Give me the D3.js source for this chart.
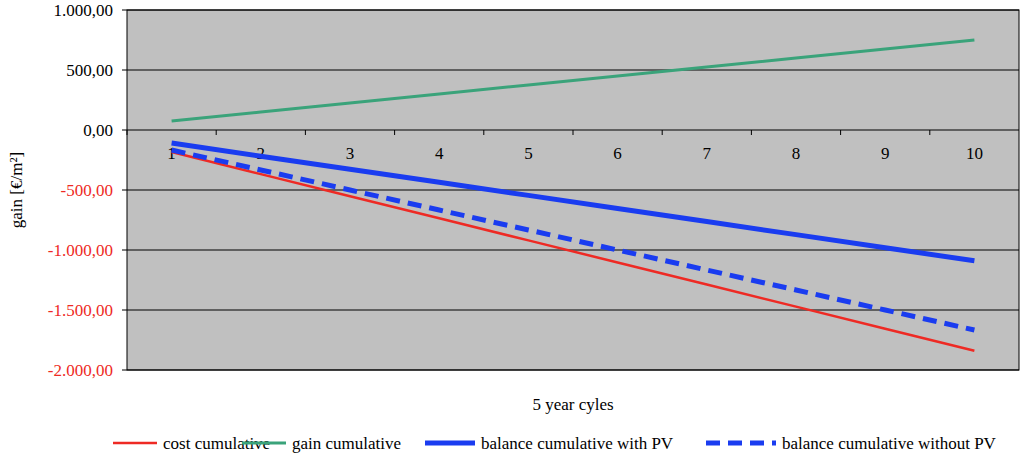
<!DOCTYPE html><html><head><meta charset="utf-8"><script src="https://cdn.jsdelivr.net/npm/d3@7"></script>
<style>body{margin:0;background:#fff}text{font-family:"Liberation Serif","Times New Roman",serif}</style></head><body>
<svg id="c" width="1024" height="457"></svg>
<script>
const categories=[1,2,3,4,5,6,7,8,9,10];
const costCum=[-184,-368,-552,-736,-920,-1104,-1288,-1472,-1656,-1840];
const gainCum=[75,150,225,300,375,450,525,600,675,750];
const balWithPV=[-109,-218,-327,-436,-545,-654,-763,-872,-981,-1090];
const balWithoutPV=[-167,-333,-500,-667,-833,-1000,-1167,-1333,-1500,-1667];
const yTicks=[-2000,-1500,-1000,-500,0,500,1000];
const series=[
 {name:"cost cumulative",v:costCum,c:"#ee2a24",w:2.5,d:null},
 {name:"gain cumulative",v:gainCum,c:"#3aa37a",w:3,d:null},
 {name:"balance cumulative with PV",v:balWithPV,c:"#1a3cf0",w:5,d:null},
 {name:"balance cumulative without PV",v:balWithoutPV,c:"#1a3cf0",w:5,d:"14,8"}];
const L=127,R=1019,T=10,B=370;
const svg=d3.select("#c");
const x=d3.scaleBand().domain(categories).range([L,R]);
const y=d3.scaleLinear().domain([-2000,1000]).range([B,T]);
svg.append("rect").attr("x",L).attr("y",T).attr("width",R-L).attr("height",B-T).attr("fill","#c0c0c0").attr("stroke","#000");
const fmt=v=>{const s=Math.abs(v).toFixed(0);const g=s.replace(/\B(?=(\d{3})+(?!\d))/g,".");return (v<0?"-":"")+g+",00";};
yTicks.forEach(t=>{
 svg.append("line").attr("x1",L-5).attr("x2",R).attr("y1",y(t)).attr("y2",y(t)).attr("stroke","#000").attr("stroke-width",1);
 svg.append("text").attr("x",L-14).attr("y",y(t)+6).attr("text-anchor","end").attr("font-size",17).attr("fill",t<0?"#ee2a24":"#000").text(fmt(t));
});
categories.forEach(c=>{
 svg.append("text").attr("x",x(c)+x.bandwidth()/2).attr("y",y(0)+29).attr("text-anchor","middle").attr("font-size",17).text(c);
 svg.append("line").attr("x1",x(c)).attr("x2",x(c)).attr("y1",y(0)).attr("y2",y(0)+5).attr("stroke","#000");
});
const line=d3.line().x((d,i)=>x(categories[i])+x.bandwidth()/2).y(d=>y(d));
series.forEach(s=>svg.append("path").attr("d",line(s.v)).attr("fill","none").attr("stroke",s.c).attr("stroke-width",s.w).attr("stroke-dasharray",s.d));
svg.append("text").attr("transform","translate(22,190) rotate(-90)").attr("text-anchor","middle").attr("font-size",17).text("gain [€/m²]");
svg.append("text").attr("x",573).attr("y",410).attr("text-anchor","middle").attr("font-size",17).text("5 year cyles");
const lx=[113,242,425,706];
const lw=[44,44,50,70];
series.forEach((s,i)=>{
 svg.append("line").attr("x1",lx[i]).attr("x2",lx[i]+lw[i]).attr("y1",443).attr("y2",443).attr("stroke",s.c).attr("stroke-width",s.w).attr("stroke-dasharray",s.d?"14,8":null);
 svg.append("text").attr("x",lx[i]+lw[i]+6).attr("y",449).attr("font-size",17).text(s.name);
});
</script></body></html>
